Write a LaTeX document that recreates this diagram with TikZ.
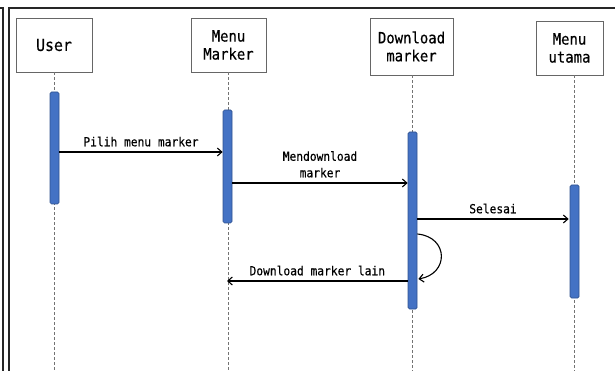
\documentclass[tikz,border=0pt]{standalone}
\usepackage{fontspec}
\setmonofont{DejaVu Sans Mono}[FakeStretch=0.9,FakeBold=0.4]
\usetikzlibrary{arrows.meta}
\definecolor{barfill}{HTML}{4472C4}
\definecolor{barline}{HTML}{2F528F}
\tikzset{
  actor/.style={draw=black!60, line width=0.8pt, fill=white, inner sep=0pt,
    align=center, font=\ttfamily\fontsize{15.5}{18}\selectfont},
  lifeline/.style={draw=black!55, dashed, dash pattern=on 3pt off 2pt, line width=0.6pt},
  actbar/.style={draw=barline, fill=barfill, line width=0.7pt, rounded corners=1.5pt,
    minimum width=9pt, inner sep=0pt},
  msg/.style={draw=black, line width=1.1pt, -{Straight Barb[length=4.5pt,width=8pt]}},
  msglabel/.style={font=\ttfamily\fontsize{12.5}{16.5}\selectfont, align=center, inner sep=0pt},
  frameline/.style={draw=black!85, line width=1.6pt}
}
\begin{document}
\begin{tikzpicture}[x=1pt,y=-1pt]
  \useasboundingbox (0,0) rectangle (615,371);
  % outer frames
  \draw[frameline] (0,8) -- (3,8) -- (3,371);
  \draw[frameline] (615,8) -- (9,8) -- (9,371);

  % actors
  \node[actor, minimum width=76pt, minimum height=54pt, font=\ttfamily\fontsize{16.5}{19}\selectfont] (user) at (54,45) {User};
  \node[actor, minimum width=75pt, minimum height=54pt] (menum) at (228.5,45) {Menu\\Marker};
  \node[actor, minimum width=83pt, minimum height=57pt] (down) at (411.5,46.5) {Download\\marker};
  \node[actor, minimum width=67pt, minimum height=54pt] (utama) at (569.5,48) {Menu\\utama};

  % lifelines
  \coordinate (userend) at (54,371);
  \coordinate (menumend) at (228,371);
  \coordinate (downend) at (412,371);
  \coordinate (utamaend) at (574,371);
  \draw[lifeline] (user.south) -- (userend);
  \draw[lifeline] (menum.south -| 228,0) -- (menumend);
  \draw[lifeline] (down.south -| 412,0) -- (downend);
  \draw[lifeline] (utama.south -| 574,0) -- (utamaend);

  % activation bars
  \node[actbar, minimum height=112pt] (ub) at (54.5,148) {};
  \node[actbar, minimum height=113pt] (mb) at (227.5,166.5) {};
  \node[actbar, minimum height=177pt] (db) at (412.5,220.5) {};
  \node[actbar, minimum height=113pt] (tb) at (574.5,241.5) {};

  % messages
  \draw[msg] (ub.east |- 0,152) -- (mb.west |- 0,152)
    node[msglabel, midway, above=5pt] (m1) {Pilih menu marker};
  \draw[msg] (mb.east |- 0,183) -- (db.west |- 0,183)
    node[msglabel, midway, above=5pt] (m2) {Mendownload\\marker};
  \draw[msg] (db.east |- 0,219) -- ([xshift=-1pt]tb.west |- 0,219)
    node[msglabel, midway, above=5pt] (m3) {Selesai};
  \draw[msg] (db.east |- 0,234) .. controls (449,237) and (449,274) .. ([xshift=1pt]db.east |- 0,279);
  \draw[msg] (db.west |- 0,281) -- ([xshift=-1pt]menumend |- 0,281)
    node[msglabel, pos=0.5, above=5pt] (m4) {Download marker lain};
\end{tikzpicture}
\end{document}
